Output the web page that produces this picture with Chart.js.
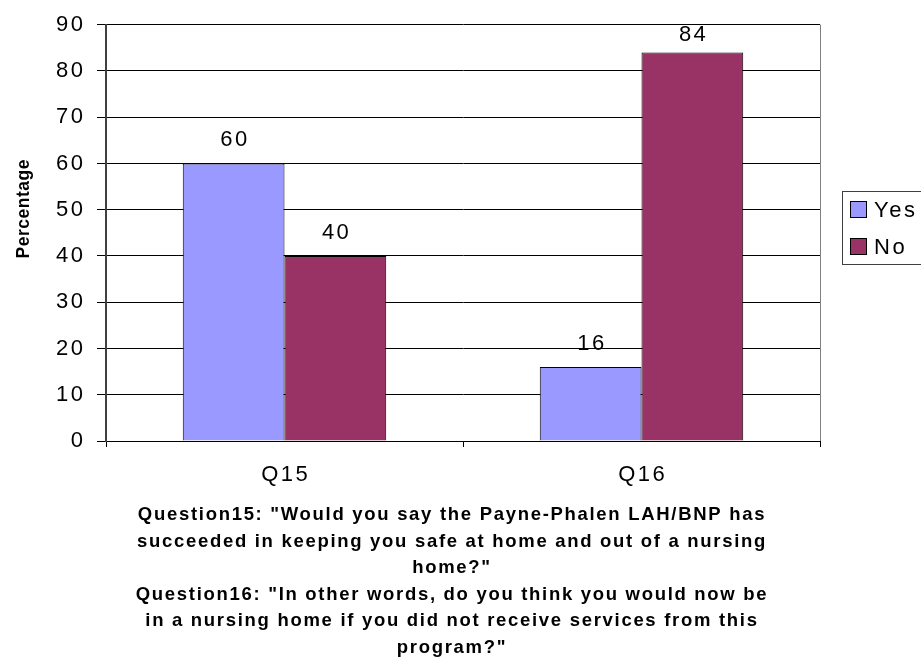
<!DOCTYPE html>
<html>
<head>
<meta charset="utf-8">
<script src="https://cdn.jsdelivr.net/npm/chart.js@4.4.1/dist/chart.umd.min.js"></script>
<style>
  html, body { margin: 0; padding: 0; background: #ffffff; }
  #wrap { width: 921px; height: 662px; position: relative; }
</style>
</head>
<body>
<div id="wrap"><canvas id="chart" width="921" height="662"></canvas></div>
<script>
// Survey answers, in percent
const categories = ['Q15', 'Q16'];
const seriesNames = ['Yes', 'No'];
const yesValues = [60, 16];
const noValues = [40, 84];
const yTicks = [0, 10, 20, 30, 40, 50, 60, 70, 80, 90];
const yAxisTitle = 'Percentage';
const captionLines = [
  'Question15: "Would you say the Payne-Phalen LAH/BNP has',
  'succeeded in keeping you safe at home and out of a nursing',
  'home?"',
  'Question16: "In other words, do you think you would now be',
  'in a nursing home if you did not receive services from this',
  'program?"'
];

const FONT = '"Liberation Sans", Arial, Helvetica, sans-serif';
const colors = ['#9999FF', '#993366'];
const SPACING = 2.5;

// Wide tracking for every label drawn on the canvas
const tracking = {
  id: 'tracking',
  beforeDraw(chart) {
    if ('letterSpacing' in chart.ctx) chart.ctx.letterSpacing = SPACING + 'px';
  }
};

// Value labels above each bar
const valueLabels = {
  id: 'valueLabels',
  afterDatasetsDraw(chart) {
    const ctx = chart.ctx;
    const top = chart.chartArea.top;
    ctx.save();
    ctx.font = '22px ' + FONT;
    ctx.fillStyle = '#000';
    ctx.textAlign = 'center';
    ctx.textBaseline = 'alphabetic';
    chart.data.datasets.forEach((ds, i) => {
      const meta = chart.getDatasetMeta(i);
      meta.data.forEach((bar, j) => {
        const y = Math.max(bar.y - 17, top + 16);
        ctx.fillText(String(ds.data[j]), bar.x + SPACING / 2, y);
      });
    });
    ctx.restore();
  }
};

// Plot frame on the right side, axis title, boxed legend and the question text below
const decorations = {
  id: 'decorations',
  afterDraw(chart) {
    const ctx = chart.ctx;
    const a = chart.chartArea;
    ctx.save();
    // right edge of plot area
    ctx.strokeStyle = '#808080';
    ctx.lineWidth = 1;
    ctx.beginPath();
    ctx.moveTo(Math.round(a.right) + 0.5, a.top);
    ctx.lineTo(Math.round(a.right) + 0.5, a.bottom);
    ctx.stroke();

    // y axis title
    ctx.save();
    ctx.translate(24, 209);
    ctx.rotate(-Math.PI / 2);
    ctx.font = 'bold 17.5px ' + FONT;
    if ('letterSpacing' in ctx) ctx.letterSpacing = '0.5px';
    ctx.fillStyle = '#000';
    ctx.textAlign = 'center';
    ctx.textBaseline = 'middle';
    ctx.fillText(yAxisTitle, 0.25, 0);
    ctx.restore();

    // legend box
    const lx = 842, ly = 191, lw = 100, lh = 73;
    ctx.fillStyle = '#fff';
    ctx.fillRect(lx, ly, lw, lh);
    ctx.strokeStyle = '#404040';
    ctx.strokeRect(lx + 0.5, ly + 0.5, lw, lh);
    ctx.font = '22px ' + FONT;
    ctx.textAlign = 'left';
    ctx.textBaseline = 'alphabetic';
    chart.data.datasets.forEach((ds, i) => {
      const sy = 201 + i * 37;
      ctx.fillStyle = ds.backgroundColor;
      ctx.fillRect(850, sy, 17, 17);
      ctx.strokeStyle = '#000';
      ctx.strokeRect(850.5, sy + 0.5, 16, 16);
      ctx.fillStyle = '#000';
      ctx.fillText(ds.label, 874, sy + 16);
    });

    // question text
    ctx.font = 'bold 18.5px ' + FONT;
    ctx.textAlign = 'center';
    if ('letterSpacing' in ctx) ctx.letterSpacing = '1.7px';
    captionLines.forEach((line, k) => {
      ctx.fillText(line, 452, 520 + k * 26.6);
    });
    ctx.restore();
  }
};

new Chart(document.getElementById('chart'), {
  type: 'bar',
  data: {
    labels: categories,
    datasets: [
      { label: seriesNames[0], data: yesValues, backgroundColor: colors[0],
        borderColor: '#000', borderWidth: 1 },
      { label: seriesNames[1], data: noValues, backgroundColor: colors[1],
        borderColor: '#000', borderWidth: 1 }
    ]
  },
  options: {
    responsive: false,
    animation: false,
    devicePixelRatio: 1,
    layout: { padding: { top: 22, right: 101, left: 0, bottom: 161 } },
    datasets: { bar: { categoryPercentage: 0.57, barPercentage: 1 } },
    plugins: {
      legend: { display: false },
      title: { display: false },
      tooltip: { enabled: false }
    },
    scales: {
      x: {
        afterFit(scale) { scale.height = 60; },
        grid: { offset: true, drawOnChartArea: false, drawTicks: true,
                tickLength: 6, color: '#000', lineWidth: 1 },
        border: { color: '#000', width: 1 },
        ticks: { color: '#000', font: { family: FONT, size: 22 }, padding: 15, labelOffset: SPACING / 2 }
      },
      y: {
        min: 0,
        max: 90,
        afterFit(scale) { scale.width = 106; },
        afterBuildTicks(scale) { scale.ticks = yTicks.map(v => ({ value: v })); },
        grid: { color: '#000', lineWidth: 1, drawTicks: true, tickLength: 9 },
        border: { color: '#404040', width: 2 },
        ticks: { color: '#000', font: { family: FONT, size: 22 }, padding: 11.5 }
      }
    }
  },
  plugins: [tracking, valueLabels, decorations]
});
</script>
</body>
</html>
